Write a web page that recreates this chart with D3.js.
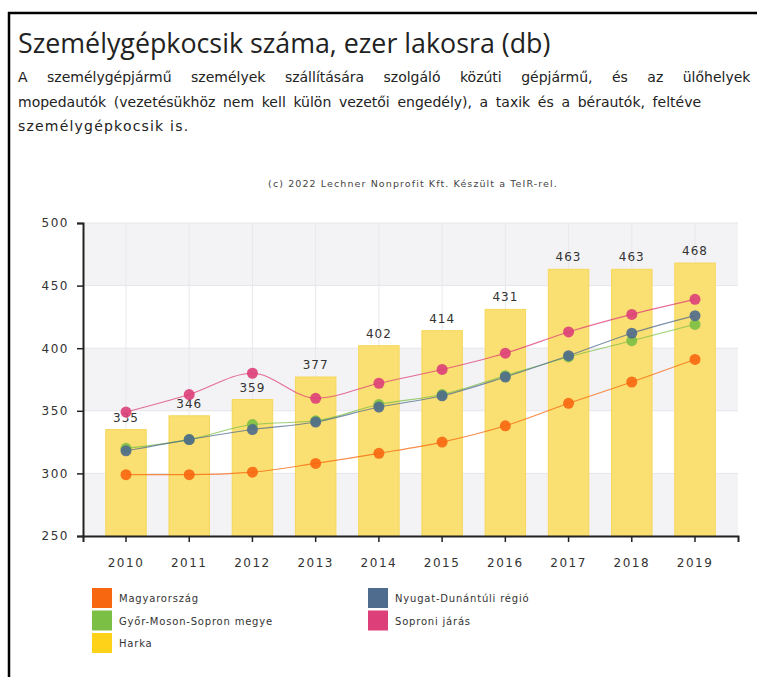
<!DOCTYPE html>
<html>
<head>
<meta charset="utf-8">
<script src="https://cdn.jsdelivr.net/npm/d3@7"></script>
<style>
  html, body { margin: 0; padding: 0; background: #fff; overflow: hidden; }
  svg { display: block; }
</style>
</head>
<body>
<svg id="chart" width="757" height="677"></svg>
<script>
// Passenger cars per 1000 inhabitants
const years = ["2010","2011","2012","2013","2014","2015","2016","2017","2018","2019"];
const harka = [335, 346, 359, 377, 402, 414, 431, 463, 463, 468];
const magyarorszag = [299, 299, 301, 308, 316, 325, 338, 356, 373, 391];
const gyorMosonSopron = [320, 327, 339, 342, 355, 363, 378, 393, 406, 419];
const nyugatDunantul = [318, 327, 335, 341, 353, 362, 377, 394, 412, 426];
const soproniJaras = [349, 363, 380, 360, 372, 383, 396, 413, 427, 439];
const yTicks = [250, 300, 350, 400, 450, 500];

const lineSeries = [
  { name: "Magyarország", values: magyarorszag, color: "#f7670f" },
  { name: "Győr-Moson-Sopron megye", values: gyorMosonSopron, color: "#7cbf45" },
  { name: "Nyugat-Dunántúli régió", values: nyugatDunantul, color: "#4f6b8d" },
  { name: "Soproni járás", values: soproniJaras, color: "#dd3f78" }
];
const barColor = "#fadf72";
const barLegendColor = "#ffd21a";

const FONT = "'DejaVu Sans', Verdana, sans-serif";
const svg = d3.select("#chart");

// frame
svg.append("line").attr("x1", 8).attr("x2", 757).attr("y1", 13).attr("y2", 13)
  .attr("stroke", "#000").attr("stroke-width", 2.5);
svg.append("line").attr("x1", 9).attr("x2", 9).attr("y1", 12).attr("y2", 677)
  .attr("stroke", "#000").attr("stroke-width", 2.5);

// heading
svg.append("text").attr("x", 18).attr("y", 53)
  .attr("font-family", "'Open Sans', sans-serif").attr("font-size", 26.8)
  .attr("fill", "#222").text("Személygépkocsik száma, ezer lakosra (db)");

// justified description text (runs past the right edge)
const desc = [
  { t: "A személygépjármű személyek szállítására szolgáló közúti gépjármű, és az ülőhelyek", ws: 15, ls: 0 },
  { t: "mopedautók (vezetésükhöz nem kell külön vezetői engedély), a taxik és a bérautók, feltéve", ws: 3.2, ls: 0 },
  { t: "személygépkocsik is.", ws: 0, ls: 1.2 }
];
desc.forEach((d, i) => {
  svg.append("text").attr("x", 18).attr("y", 82 + i * 24.5)
    .attr("font-family", FONT).attr("font-size", 14)
    .attr("word-spacing", d.ws).attr("letter-spacing", d.ls)
    .attr("fill", "#222").text(d.t);
});

// plot
const plotLeft = 83, plotRight = 738, plotTop = 223, plotBottom = 536;
const x = d3.scaleBand().domain(years).range([plotLeft, plotRight]).padding(0.36);
const y = d3.scaleLinear().domain([250, 500]).range([plotBottom, plotTop]);

svg.append("text").attr("x", 413).attr("y", 187)
  .attr("text-anchor", "middle")
  .attr("font-family", FONT).attr("font-size", 9.5).attr("letter-spacing", 1.1)
  .attr("fill", "#444").text("(c) 2022 Lechner Nonprofit Kft. Készült a TeIR-rel.");

// alternating bands
for (let i = 0; i < yTicks.length - 1; i++) {
  if (i % 2 === 0) {
    svg.append("rect").attr("x", plotLeft).attr("width", plotRight - plotLeft)
      .attr("y", y(yTicks[i + 1])).attr("height", y(yTicks[i]) - y(yTicks[i + 1]))
      .attr("fill", "#f3f3f5");
  }
}
// grid
svg.append("g").selectAll("line").data(yTicks).join("line")
  .attr("x1", plotLeft).attr("x2", plotRight).attr("y1", d => y(d)).attr("y2", d => y(d))
  .attr("stroke", "#e6e6ea").attr("stroke-width", 1);
svg.append("g").selectAll("line").data(years).join("line")
  .attr("x1", d => x(d) + x.bandwidth() / 2).attr("x2", d => x(d) + x.bandwidth() / 2)
  .attr("y1", plotTop).attr("y2", plotBottom)
  .attr("stroke", "#e8e8ec").attr("stroke-width", 1);

// bars
svg.append("g").selectAll("rect").data(years).join("rect")
  .attr("x", d => x(d)).attr("width", x.bandwidth())
  .attr("y", (d, i) => y(harka[i])).attr("height", (d, i) => plotBottom - y(harka[i]))
  .attr("fill", barColor).attr("stroke", "#f6d75a").attr("stroke-width", 1);

svg.append("g").selectAll("text").data(years).join("text")
  .attr("x", d => x(d) + x.bandwidth() / 2)
  .attr("y", (d, i) => y(harka[i]) - 8)
  .attr("text-anchor", "middle")
  .attr("font-family", FONT).attr("font-size", 12).attr("letter-spacing", 1)
  .attr("fill", "#333").text((d, i) => harka[i]);

// lines
const cx = d => x(d) + x.bandwidth() / 2;
const line = d3.line().x((v, i) => cx(years[i])).y(v => y(v)).curve(d3.curveMonotoneX);
lineSeries.forEach(s => {
  svg.append("path").datum(s.values).attr("d", line)
    .attr("fill", "none").attr("stroke", s.color).attr("stroke-width", 1.1).attr("opacity", 0.75);
});
lineSeries.forEach(s => {
  svg.append("g").selectAll("circle").data(s.values).join("circle")
    .attr("cx", (v, i) => cx(years[i])).attr("cy", v => y(v)).attr("r", 5.5)
    .attr("fill", s.color).attr("opacity", 0.9);
});

// axes
const yAxis = svg.append("g").attr("transform", `translate(${plotLeft},0)`)
  .call(d3.axisLeft(y).tickValues(yTicks).tickSize(6).tickPadding(8));
const xAxis = svg.append("g").attr("transform", `translate(0,${plotBottom})`)
  .call(d3.axisBottom(x).tickSize(6).tickPadding(16));
[yAxis, xAxis].forEach(a => {
  a.select(".domain").attr("stroke", "#222").attr("stroke-width", 2);
  a.selectAll(".tick line").attr("stroke", "#222").attr("stroke-width", 1.5);
  a.selectAll(".tick text").attr("font-family", FONT)
    .attr("font-size", 12).attr("letter-spacing", 1.5).attr("fill", "#333");
});

// legend
const legendItems = [
  { name: "Magyarország", color: lineSeries[0].color, col: 0, row: 0 },
  { name: "Győr-Moson-Sopron megye", color: lineSeries[1].color, col: 0, row: 1 },
  { name: "Harka", color: barLegendColor, col: 0, row: 2 },
  { name: "Nyugat-Dunántúli régió", color: lineSeries[2].color, col: 1, row: 0 },
  { name: "Soproni járás", color: lineSeries[3].color, col: 1, row: 1 }
];
const lg = svg.append("g").selectAll("g").data(legendItems).join("g")
  .attr("transform", d => `translate(${d.col ? 368 : 92},${588 + d.row * 22.5})`);
lg.append("rect").attr("width", 20).attr("height", 20).attr("fill", d => d.color);
lg.append("text").attr("x", 27).attr("y", 14)
  .attr("font-family", FONT).attr("font-size", 10).attr("letter-spacing", 0.8)
  .attr("fill", "#333").text(d => d.name);
</script>
</body>
</html>
